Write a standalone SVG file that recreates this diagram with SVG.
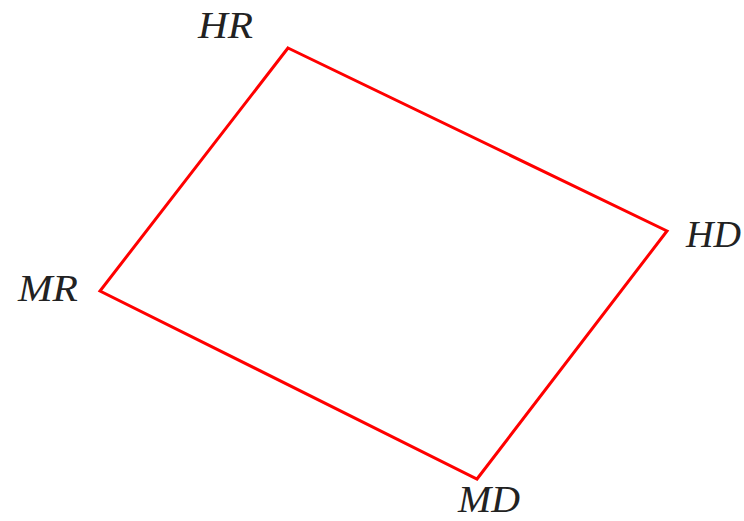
<svg xmlns="http://www.w3.org/2000/svg" width="744" height="521" viewBox="0 0 744 521">
<style>
.lbl{font-family:"Liberation Serif","Times New Roman",serif;font-style:italic;font-size:38px;fill:#222}
.edge{fill:none;stroke:#ff0000;stroke-width:3;stroke-linejoin:miter}
</style>
<rect width="744" height="521" fill="#fff"/>
<g id="connectors">
<polygon class="edge" points="288,48 667,231 477,479 100,291"/>
</g>
<g id="HR"><text class="lbl" x="198" y="38" textLength="55" lengthAdjust="spacingAndGlyphs">HR</text></g>
<g id="HD"><text class="lbl" x="686" y="247" textLength="55" lengthAdjust="spacingAndGlyphs">HD</text></g>
<g id="MR"><text class="lbl" x="18" y="301" textLength="60" lengthAdjust="spacingAndGlyphs">MR</text></g>
<g id="MD"><text class="lbl" x="458" y="512" textLength="62" lengthAdjust="spacingAndGlyphs">MD</text></g>
</svg>
